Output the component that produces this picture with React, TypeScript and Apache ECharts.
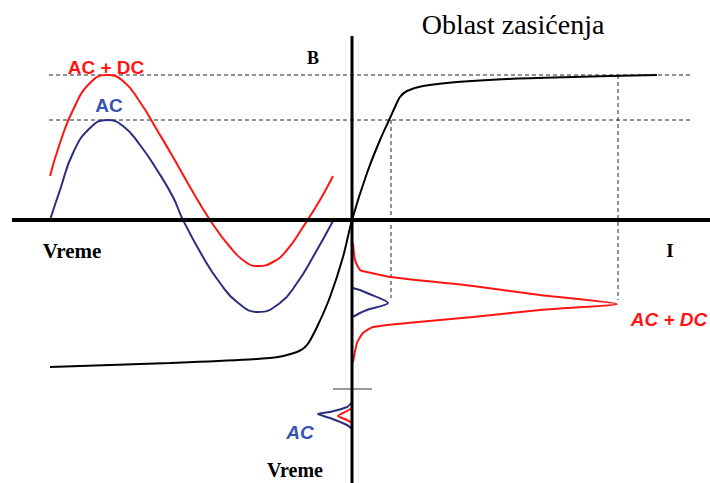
import React, { useEffect, useRef } from "react";
import * as echarts from "echarts";

// Diagram units: origin at the crossing of the B and I axes, B upward, time downward below.
const acTime = [
  [-302, 0], [-292, 30], [-279, 67], [-262, 92], [-245, 100], [-229, 94], [-212, 75],
  [-195, 50], [-179, 23], [-169, 0], [-149, -37], [-132, -63], [-115, -82], [-94, -92],
  [-72, -83], [-55, -63], [-39, -37], [-19, -1],
];
const acdcTime = [
  [-302, 44], [-292, 77], [-279, 110], [-262, 137], [-245, 145], [-229, 139], [-212, 118],
  [-195, 90], [-179, 63], [-162, 33], [-142, 0], [-122, -27], [-105, -43], [-94, -46],
  [-79, -42], [-65, -30], [-49, -7], [-32, 20], [-19, 44],
];
const magCurve = [
  [-302, -147], [-182, -143], [-82, -138], [-55, -132], [-45, -125], [-35, -107], [-22, -77],
  [-9, -37], [0, 0], [15, 47], [28, 80], [38, 102], [43, 113], [48, 123], [55, 129],
  [71, 134], [105, 138], [155, 141], [221, 143], [305, 145],
];
const acdcCurrent = [
  [1, -23], [3, -40], [8, -50], [15, -52], [38, -57], [121, -66], [188, -75], [265, -84],
  [188, -90], [121, -97], [55, -103], [21, -107], [11, -113], [5, -123], [1, -142],
];
const acCurrent = [
  [1, -68], [8, -70], [15, -73], [36, -83], [15, -90], [8, -93], [1, -97],
];
const acBottom = [
  [0, -182], [-5, -187], [-22, -192], [-34, -194], [-22, -198], [-5, -205], [0, -209],
];
const acdcBottom = [
  [0, -188], [-5, -191], [-14, -196], [-5, -200], [0, -203],
];
const levelB = [145, 100];
const levelSpan = [-303, 341];
const projections = [
  [39, 100, -78],
  [266, 145, -80],
];
const axisI = [[-340, 0], [358, 0]];
const axisB = [[0, 184], [0, -263]];
const timeMark = [[-19, -169], [20, -169]];

const RED = "#ff1414";
const NAVY = "#2b2e7e";
const LBLUE = "#3553b0";

function line(data: number[][], color: string, width: number, extra: any = {}) {
  return {
    type: "line",
    data,
    showSymbol: false,
    symbol: "none",
    silent: true,
    clip: false,
    lineStyle: { color, width, ...(extra.lineStyle || {}) },
    smooth: extra.smooth ?? false,
    z: extra.z ?? 2,
  };
}

function txt(text: string, x: number, y: number, font: string, fill: string) {
  return {
    type: "text",
    x,
    y,
    style: {
      text,
      font,
      fill,
      align: "center",
      textAlign: "center",
      verticalAlign: "middle",
      textVerticalAlign: "middle",
    },
  };
}

export default function App() {
  const ref = useRef<HTMLDivElement>(null);
  useEffect(() => {
    if (!ref.current) return;
    const chart = echarts.init(ref.current, null, { renderer: "svg" });
    const series: any[] = [];
    levelB.forEach((b) =>
      series.push(
        line([[levelSpan[0], b], [levelSpan[1], b]], "#222", 1, { lineStyle: { type: [4, 3] }, z: 1 })
      )
    );
    projections.forEach((p) =>
      series.push(line([[p[0], p[1]], [p[0], p[2]]], "#222", 1, { lineStyle: { type: [4, 3] }, z: 1 }))
    );
    series.push(line(axisI, "#000", 4, { z: 5 }));
    series.push(line(axisB, "#000", 3, { z: 5 }));
    series.push(line(timeMark, "#333", 1, { z: 4 }));
    series.push(line(acTime, NAVY, 2, { smooth: 0.5 }));
    series.push(line(acdcTime, RED, 2, { smooth: 0.5 }));
    series.push(line(magCurve, "#000", 2, { smooth: 0.3, z: 3 }));
    series.push(line(acdcCurrent, RED, 2, { smooth: 0.2 }));
    series.push(line(acCurrent, NAVY, 2, { smooth: 0.25 }));
    series.push(line(acBottom, NAVY, 2, { smooth: 0.25 }));
    series.push(line(acdcBottom, RED, 2, { smooth: 0.2 }));

    const serif = "'Liberation Serif', 'Times New Roman', serif";
    const sans = "'Liberation Sans', Arial, sans-serif";
    chart.setOption({
      animation: false,
      backgroundColor: "#fff",
      grid: { left: 0, right: 0, top: 0, bottom: 0, containLabel: false },
      xAxis: { type: "value", min: -352, max: 358, show: false },
      yAxis: { type: "value", min: -263, max: 220, show: false },
      series,
      graphic: [
        txt("Oblast zasićenja", 513, 24, `28px ${serif}`, "#000"),
        txt("B", 313, 58, `bold 18px ${serif}`, "#000"),
        txt("I", 670, 250, `bold 19px ${serif}`, "#000"),
        txt("Vreme", 72, 251, `bold 21px ${serif}`, "#000"),
        txt("Vreme", 295, 470, `bold 20px ${serif}`, "#000"),
        txt("AC + DC", 106, 67, `bold 19px ${sans}`, RED),
        txt("AC", 109, 105, `bold 19px ${sans}`, LBLUE),
        txt("AC + DC", 669, 319, `italic bold 19px ${sans}`, RED),
        txt("AC", 300, 432, `italic bold 19px ${sans}`, LBLUE),
      ],
    });
    return () => chart.dispose();
  }, []);
  return (
    <div
      ref={ref}
      style={{ position: "fixed", left: 0, top: 0, width: 710, height: 483, background: "#fff" }}
    />
  );
}
